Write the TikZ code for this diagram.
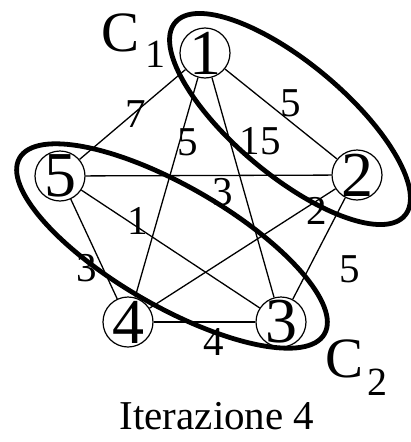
\documentclass[tikz,border=0pt]{standalone}
\usepackage{fontspec}
\setmainfont{Liberation Serif}
\tikzset{
  % graph vertices
  vert/.style={circle, draw, line width=1.2pt, minimum size=50pt, inner sep=0pt},
  num/.style={font=\fontsize{64}{64}\selectfont, inner sep=0pt},
  % edges and their weights
  edge/.style={line width=1.3pt},
  wt/.style={font=\fontsize{41}{41}\selectfont, inner sep=0pt},
  % cluster ellipses
  clus/.style={line width=4.8pt},
  clab/.style={font=\fontsize{57}{57}\selectfont, inner sep=0pt, anchor=base west},
  title/.style={font=\fontsize{41}{41}\selectfont, inner sep=0pt},
}
\begin{document}
\begin{tikzpicture}[x=1pt, y=-1pt]
\useasboundingbox (0,0) rectangle (411,442);

%% vertices
\node[vert, label={[num]center:1}] (v1) at (205,53)  {};
\node[vert, label={[num]center:2}] (v2) at (357,175) {};
\node[vert, label={[num]center:3}] (v3) at (281,322) {};
\node[vert, label={[num]center:4}] (v4) at (128,322) {};
\node[vert, label={[num]center:5}] (v5) at (60,176)  {};

%% edges
\draw[edge] (v1) -- (v5);
\draw[edge] (v1) -- (v2);
\draw[edge] (v1) -- (v4);
\draw[edge] (v1) -- (v3);
\draw[edge] (v5) -- (v2);
\draw[edge] (v5) -- (v3);
\draw[edge] (v5) -- (v4);
\draw[edge] (v2) -- (v4);
\draw[edge] (v2) -- (v3);
\draw[edge] (v4) -- (v3);

%% weights
\node[wt] (w15) at (136,114) {7};
\node[wt] (w12) at (291,103) {5};
\node[wt] (w14) at (188,142) {5};
\node[wt] (w13) at (260,141) {15};
\node[wt] (w52) at (223,192) {3};
\node[wt] (w24) at (317,211) {2};
\node[wt] (w53) at (138,221) {1};
\node[wt] (w54) at (87,268)  {3};
\node[wt] (w23) at (350,269) {5};
\node[wt] (w43) at (214,342) {4};

%% clusters
\coordinate (c1) at (290,119);
\coordinate (c2) at (172,246);
\draw[clus, rotate around={-40:(c1)}] (c1) ellipse [x radius=150pt, y radius=56pt];
\draw[clus, rotate around={-30:(c2)}] (c2) ellipse [x radius=176pt, y radius=60pt];
\node[clab] (C1) at (101,51)  {C\kern6pt\raisebox{-16pt}{\fontsize{40}{40}\selectfont 1}};
\node[clab] (C2) at (325,377) {C\kern4pt\raisebox{-18pt}{\fontsize{40}{40}\selectfont 2}};

%% caption
\node[title] (ttl) at (217,416) {Iterazione 4};

\end{tikzpicture}
\end{document}
